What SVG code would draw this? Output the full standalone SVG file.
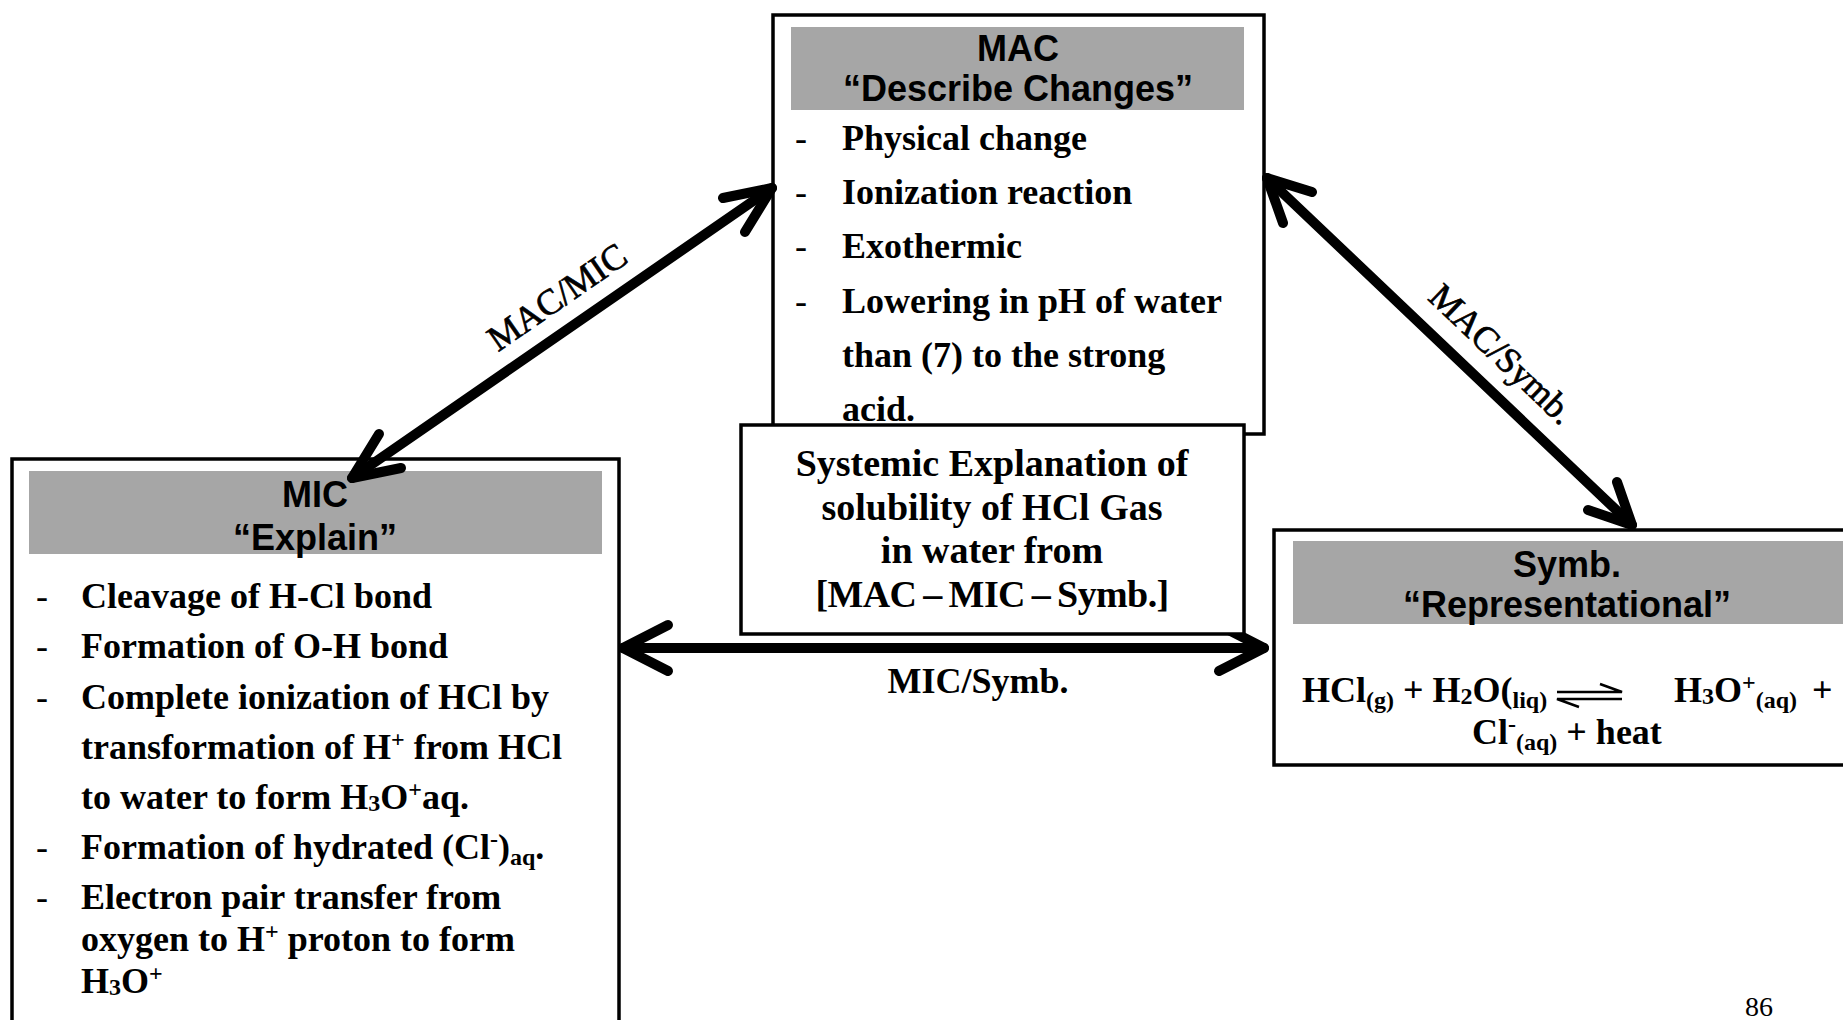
<svg xmlns="http://www.w3.org/2000/svg" width="1843" height="1020" viewBox="0 0 1843 1020">
<style>
.box{fill:#fff;stroke:#000;stroke-width:3.5}
.hdr{fill:#a6a6a6}
.h{font-family:"Liberation Sans",Arial,sans-serif;font-weight:bold;font-size:36px;text-anchor:middle;fill:#000}
.b{font-family:"Liberation Serif","Times New Roman",serif;font-weight:bold;font-size:36px;fill:#000}
.d{font-family:"Liberation Serif","Times New Roman",serif;font-size:36px;fill:#000}
.s{font-size:24px}
.c{font-family:"Liberation Serif","Times New Roman",serif;font-weight:bold;font-size:38px;text-anchor:middle;fill:#000}
.lbl{font-family:"Liberation Serif","Times New Roman",serif;font-size:36px;text-anchor:middle;fill:#000}
.rl{stroke:#000;stroke-width:0.7}
.arrow{fill:none;stroke:#000;stroke-width:10;stroke-linecap:round;stroke-linejoin:round}
.eq{fill:none;stroke:#000;stroke-width:2.5}
</style>
<rect width="1843" height="1020" fill="#fff"/>

<g id="node-mic">
<rect class="box" x="12" y="459" width="607" height="580"/>
<rect class="hdr" x="29" y="471" width="573" height="83"/>
<text class="h" x="315" y="507">MIC</text>
<text class="h" x="315" y="550">“Explain”</text>
<text class="d" x="36" y="608">-</text><text class="b" x="81" y="608">Cleavage of H-Cl bond</text>
<text class="d" x="36" y="658">-</text><text class="b" x="81" y="658">Formation of O-H bond</text>
<text class="d" x="36" y="709">-</text><text class="b" x="81" y="709">Complete ionization of HCl by</text>
<text class="b" x="81" y="759">transformation of H<tspan class="s" dy="-12">+</tspan><tspan dy="12"> from HCl</tspan></text>
<text class="b" x="81" y="809">to water to form H<tspan class="s" dy="2">3</tspan><tspan dy="-2">O</tspan><tspan class="s" dy="-12">+</tspan><tspan dy="12">aq.</tspan></text>
<text class="d" x="36" y="859">-</text><text class="b" x="81" y="859">Formation of hydrated (Cl<tspan class="s" dy="-12">-</tspan><tspan dy="12">)</tspan><tspan class="s" dy="6">aq</tspan><tspan dy="-6">.</tspan></text>
<text class="d" x="36" y="909">-</text><text class="b" x="81" y="909">Electron pair transfer from</text>
<text class="b" x="81" y="951">oxygen to H<tspan class="s" dy="-12">+</tspan><tspan dy="12"> proton to form</tspan></text>
<text class="b" x="81" y="993">H<tspan class="s" dy="2">3</tspan><tspan dy="-2">O</tspan><tspan class="s" dy="-12">+</tspan></text>
</g>

<g id="node-mac">
<rect class="box" x="773" y="15" width="491" height="419"/>
<rect class="hdr" x="791" y="27" width="453" height="83"/>
<text class="h" x="1018" y="61">MAC</text>
<text class="h" x="1018" y="101">“Describe Changes”</text>
<text class="d" x="795" y="150">-</text><text class="b" x="842" y="150">Physical change</text>
<text class="d" x="795" y="204">-</text><text class="b" x="842" y="204">Ionization reaction</text>
<text class="d" x="795" y="258">-</text><text class="b" x="842" y="258">Exothermic</text>
<text class="d" x="795" y="313">-</text><text class="b" x="842" y="313">Lowering in pH of water</text>
<text class="b" x="842" y="367">than (7) to the strong</text>
<text class="b" x="842" y="421">acid.</text>
</g>

<g id="node-symb">
<rect class="box" x="1274" y="530" width="590" height="235"/>
<rect class="hdr" x="1293" y="541" width="560" height="83"/>
<text class="h" x="1567" y="577">Symb.</text>
<text class="h" x="1567" y="617">“Representational”</text>
<text class="b" x="1302" y="702">HCl<tspan class="s" dy="6">(g)</tspan><tspan dy="-6"> + H</tspan><tspan class="s" dy="2">2</tspan><tspan dy="-2">O(</tspan><tspan class="s" dy="6">liq)</tspan></text>
<path class="eq" d="M1557 692 H1622 L1600 684 M1622 699 H1557 L1579 707"/>
<text class="b" x="1674" y="702">H<tspan class="s" dy="2">3</tspan><tspan dy="-2">O</tspan><tspan class="s" dy="-12">+</tspan><tspan class="s" dy="18">(aq)</tspan><tspan dy="-6"> </tspan></text>
<text class="b" x="1812" y="702">+</text>
<text class="b" x="1472" y="744">Cl<tspan class="s" dy="-12">-</tspan><tspan class="s" dy="18">(aq)</tspan><tspan dy="-6"> + heat</tspan></text>
</g>

<g id="connectors">
<path class="arrow" d="M352 478 L772 188"/>
<path class="arrow" d="M723 198 L772 188 L745 232"/>
<path class="arrow" d="M401 468 L352 478 L379 434"/>
<path class="arrow" d="M1267 178 L1632 525"/>
<path class="arrow" d="M1312 192 L1267 178 L1283 223"/>
<path class="arrow" d="M1617 482 L1632 525 L1588 510"/>
<path class="arrow" d="M623 648 L1264 648"/>
<path class="arrow" d="M668 625 L623 648 L668 671"/>
<path class="arrow" d="M1219 625 L1264 648 L1219 671"/>
<text class="lbl rl" transform="translate(557,297) rotate(-34.6)" y="12">MAC/MIC</text>
<text class="lbl rl" transform="translate(1502,354) rotate(43.6)" y="12">MAC/Symb.</text>
<text class="lbl" style="font-weight:bold" x="978" y="693">MIC/Symb.</text>
</g>

<g id="node-systemic">
<rect class="box" x="741" y="425" width="503" height="209"/>
<text class="c" x="992" y="476">Systemic Explanation of</text>
<text class="c" x="992" y="520">solubility of HCl Gas</text>
<text class="c" x="992" y="563">in water from</text>
<text class="c" x="992" y="607" style="word-spacing:-2px;letter-spacing:-0.6px">[MAC – MIC – Symb.]</text>
</g>

<text class="d" style="font-size:28px" x="1745" y="1016">86</text>
</svg>
